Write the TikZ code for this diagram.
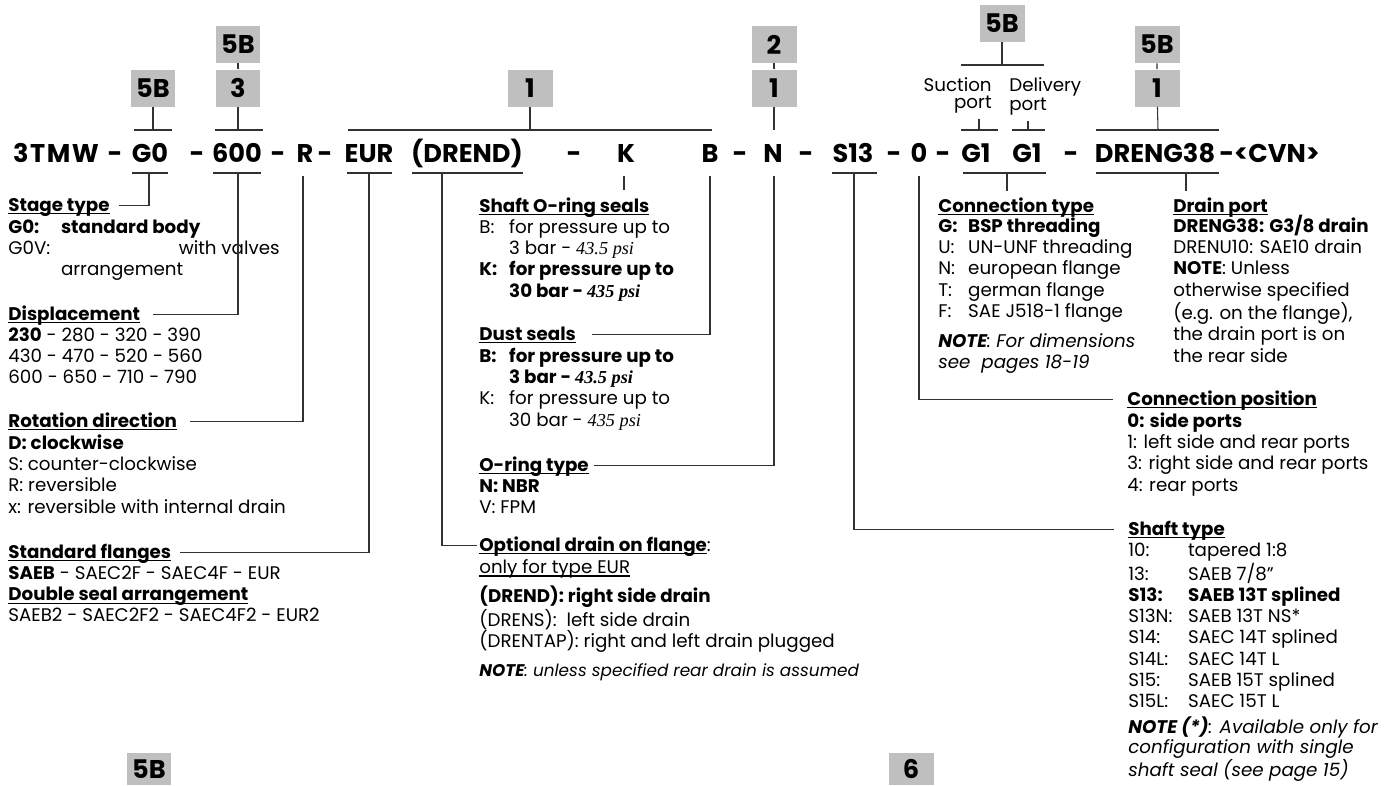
\documentclass[tikz,border=0pt]{standalone}
\usepackage{fontspec}
\setmainfont{Poppins}
\newfontfamily\psifont{Liberation Serif}
\usetikzlibrary{positioning}
\definecolor{tagfill}{RGB}{191,191,191}
\definecolor{leadgray}{RGB}{50,50,50}
\newcommand{\codefont}{\fontsize{14.6}{16}\selectfont\bfseries}
\newcommand{\bodyfont}{\fontsize{10.4}{12.1}\selectfont}
\newcommand{\psival}[1]{{\psifont\itshape #1}}
\newcommand{\hdtxt}[1]{\setbox0\hbox{#1}\rlap{\rule[-1.9pt]{\wd0}{0.8pt}}\box0}
\newcommand{\firstln}{\rule{0pt}{10pt}}

\begin{document}
\begin{tikzpicture}[x=0.02cm, y=-0.02cm,
    code/.style={font=\codefont, anchor=base, inner sep=0pt},
    tag/.style={fill=tagfill, font=\codefont, minimum width=0.9cm,
      minimum height=0.74cm, inner sep=0pt},
    hd/.style={font=\bodyfont\bfseries, anchor=base west, inner sep=0pt},
    body/.style={font=\bodyfont, anchor=north west, inner sep=0pt, align=left,
      yshift=10pt},
    lead/.style={draw=leadgray, line width=0.6pt}]
  \useasboundingbox (0,0) rectangle (1400,785);
  % the order code
  \node[code] (c3tmw) at (56,162) {\addfontfeature{LetterSpace=6}3TMW};
  \node[code] (cg0) at (150,162) {G0};
  \node[code] (c600) at (237,162) {600};
  \node[code] (cr) at (305,162) {R};
  \node[code] (ceur) at (369,162) {EUR};
  \node[code] (cdrend) at (467,162) {(DREND)};
  \node[code] (ck) at (626,162) {K};
  \node[code] (cb) at (710,162) {B};
  \node[code] (cn) at (773,162) {N};
  \node[code] (cs13) at (853,162) {S13};
  \node[code] (c0) at (919,162) {0};
  \node[code] (cg1a) at (976,162) {G1};
  \node[code] (cg1b) at (1027,162) {G1};
  \node[code] (cdreng) at (1155,162) {DRENG38};
  \node[code, anchor=base west] (ccvn) at (1219,162) {-<CVN>};
  \foreach \x [count=\i] in {115,197,278,325,574,740,806,894,943,1071}
    \node[code] (dash\i) at (\x,162) {-};

  % page tags
  \node[tag] (tagg0) at (153,88) {5B};
  \node[tag] (tagdispa) at (238,44.5) {5B};
  \node[tag] (tagdispb) at (238,88) {3};
  \node[tag] (tagseal) at (530,88) {1};
  \node[tag] (tagna) at (774,44.5) {2};
  \node[tag] (tagnb) at (774,88) {1};
  \node[tag] (tagport) at (1002,23.5) {5B};
  \node[tag] (tagdra) at (1157,44.5) {5B};
  \node[tag] (tagdrb) at (1157,88) {1};
  \node[tag, anchor=north, minimum height=0.64cm] (tagfoota) at (149,753) {5B};
  \node[tag, anchor=north, minimum height=0.64cm] (tagfootb) at (911,753) {6};

  \node[body, anchor=north east, align=right, font=\fontsize{10.4}{9.8}\selectfont]
    (suction) at (992,91) {\firstln Suction\\port};
  \node[body, font=\fontsize{10.4}{9.8}\selectfont]
    (delivery) at (1009,91) {\firstln Delivery\\port};

  % brackets above
  \coordinate (g0up) at (153,130);
  \coordinate (dispup) at (238,130);
  \coordinate (sealup) at (530,130);
  \coordinate (nup) at (774,130);
  \coordinate (portup) at (1002,65);
  \coordinate (sucup) at (979,130);
  \coordinate (delup) at (1028,130);
  \coordinate (drup) at (1158,130);
  \draw[lead] (134,130) -- (172,130) (215,130) -- (263,130)
    (348,130) -- (712,130) (961,65) -- (1044,65)
    (961,130) -- (998,130) (1012,130) -- (1045,130) (1096,130) -- (1219,130);
  \draw[lead] (tagg0) -- (g0up);
  \draw[lead] (tagdispa) -- (tagdispb) -- (dispup);
  \draw[lead] (tagseal) -- (sealup);
  \draw[lead] (tagna) -- (tagnb) -- (nup);
  \draw[lead] (tagport) -- (portup);
  \draw[lead] (tagdra) -- (tagdrb) -- (drup);
  \draw[lead, shorten <=3pt] (suction.south -| sucup) -- (sucup);
  \draw[lead, shorten <=3pt] (delivery.south -| delup) -- (delup);

  % left column
  \node[hd] (stagehd) at (8,211) {\hdtxt{Stage type}};
  \node[body] (stage) at (8,233) {\firstln\textbf{\makebox[30pt][l]{G0:}standard body}\\
    \makebox[97pt][l]{G0V:}with valves\\ \hspace*{30pt}arrangement};
  \node[hd] (disphd) at (8,320) {\hdtxt{Displacement}};
  \node[body] (disp) at (8,341) {\firstln\textbf{230} - 280 - 320 - 390\\
    430 - 470 - 520 - 560\\ 600 - 650 - 710 - 790};
  \node[hd] (rothd) at (8,427) {\hdtxt{Rotation direction}};
  \node[body] (rot) at (8,449) {\firstln\textbf{D: clockwise}\\ S: counter-clockwise\\
    R: reversible\\ x: reversible with internal drain};
  \node[hd] (flghd) at (8,558) {\hdtxt{Standard flanges}};
  \node[body] (flg) at (8,579) {\firstln\textbf{SAEB} - SAEC2F - SAEC4F - EUR\\
    \textbf{\hdtxt{Double seal arrangement}}\\ SAEB2 - SAEC2F2 - SAEC4F2 - EUR2};

  % middle column
  \node[hd] (sealhd) at (479,212) {\hdtxt{Shaft O-ring seals}};
  \node[body] (seal) at (479,233) {\firstln\makebox[17pt][l]{B:}for pressure up to\\
    \hspace*{17pt}3 bar - \psival{43.5 psi}\\
    \textbf{\makebox[17pt][l]{K:}for pressure up to}\\
    \hspace*{17pt}\textbf{30 bar - \psival{435 psi}}};
  \node[hd] (dusthd) at (479,340) {\hdtxt{Dust seals}};
  \node[body] (dust) at (479,362) {\firstln\textbf{\makebox[17pt][l]{B:}for pressure up to}\\
    \hspace*{17pt}\textbf{3 bar - \psival{43.5 psi}}\\
    \makebox[17pt][l]{K:}for pressure up to\\
    \hspace*{17pt}30 bar - \psival{435 psi}};
  \node[hd] (oringhd) at (479,471) {\hdtxt{O-ring type}};
  \node[body] (oring) at (479,492) {\firstln\textbf{N: NBR}\\ V: FPM};
  \node[hd] (opthd) at (479,551) {\hdtxt{Optional drain on flange}\mdseries:};
  \node[body] (opt) at (479,573) {\firstln\hdtxt{only for type EUR}\\[3.2pt]
    \textbf{(DREND): right side drain}\\ (DRENS):\ \ left side drain\\
    (DRENTAP): right and left drain plugged\\[4.5pt]
    {\fontsize{9.6}{12.1}\selectfont\itshape\textbf{NOTE}: unless specified rear drain is assumed}};

  % right columns
  \node[hd] (conthd) at (938,212) {\hdtxt{Connection type}};
  \node[body] (cont) at (938,232) {\firstln\textbf{\makebox[17pt][l]{G:}BSP threading}\\
    \makebox[17pt][l]{U:}UN-UNF threading\\ \makebox[17pt][l]{N:}european flange\\
    \makebox[17pt][l]{T:}german flange\\ \makebox[17pt][l]{F:}SAE J518-1 flange\\[5pt]
    \textit{\textbf{NOTE}: For dimensions}\\ \textit{see\ \ pages 18-19}};
  \node[hd] (dporthd) at (1173,212) {\hdtxt{Drain port}};
  \node[body] (dport) at (1173,232) {\firstln\textbf{DRENG38: G3/8 drain}\\
    DRENU10: SAE10 drain\\ \textbf{NOTE}: Unless\\ otherwise specified\\
    (e.g. on the flange),\\ the drain port is on\\ the rear side};
  \node[hd] (posthd) at (1127,405) {\hdtxt{Connection position}};
  \node[body] (pos) at (1127,427) {\firstln\textbf{0: side ports}\\
    1: left side and rear ports\\ 3: right side and rear ports\\ 4: rear ports};
  \node[hd] (shafthd) at (1128,535) {\hdtxt{Shaft type}};
  \node[body] (shaft) at (1128,556) {\firstln\makebox[34pt][l]{10:}tapered 1:8\\
    \makebox[34pt][l]{13:}SAEB 7/8"\\
    \textbf{\makebox[34pt][l]{S13:}SAEB 13T splined}\\
    \makebox[34pt][l]{S13N:}SAEB 13T NS*\\
    \makebox[34pt][l]{S14:}SAEC 14T splined\\
    \makebox[34pt][l]{S14L:}SAEC 14T L\\
    \makebox[34pt][l]{S15:}SAEB 15T splined\\
    \makebox[34pt][l]{S15L:}SAEC 15T L\\[2.6pt]
    \textit{\textbf{NOTE (*)}: Available only for}\\[-0.6pt]
    \textit{configuration with single}\\[-0.6pt] \textit{shaft seal (see page 15)}};

  % brackets below and leaders
  \coordinate (g0lo) at (149,173);
  \coordinate (displo) at (238,173);
  \coordinate (rlo) at (303,176);
  \coordinate (eurlo) at (369,173);
  \coordinate (drendlo) at (442,173);
  \coordinate (klo) at (624,176);
  \coordinate (blo) at (710,176);
  \coordinate (nlo) at (774,176);
  \coordinate (s13lo) at (854,173);
  \coordinate (zerolo) at (919,176);
  \coordinate (g1lo) at (1007,173);
  \coordinate (drenglo) at (1186,173);
  \draw[lead] (132,173) -- (168,173) (213,173) -- (261,173)
    (347,173) -- (392,173) (412,173) -- (523,173) (832,173) -- (877,173)
    (963,173) -- (1046,173) (1096,173) -- (1219,173);
  \draw[lead] (g0lo) |- ([shift={(5pt,3pt)}]stagehd.base east);
  \draw[lead] (displo) |- ([shift={(7pt,3pt)}]disphd.base east);
  \draw[lead] (rlo) |- ([shift={(7pt,3pt)}]rothd.base east);
  \draw[lead] (eurlo) |- ([shift={(5pt,3pt)}]flghd.base east);
  \draw[lead] (drendlo) |- ([shift={(-1pt,3pt)}]opthd.base west);
  \draw[lead] (klo) -- ++(0,14);
  \draw[lead] (blo) |- ([shift={(9pt,3pt)}]dusthd.base east);
  \draw[lead] (nlo) |- ([shift={(3pt,3pt)}]oringhd.base east);
  \draw[lead] (s13lo) |- ([shift={(-8pt,3pt)}]shafthd.base west);
  \draw[lead] (zerolo) |- ([shift={(-8pt,3pt)}]posthd.base west);
  \draw[lead] (g1lo) -- ++(0,18);
  \draw[lead] (drenglo) -- ++(0,18);
\end{tikzpicture}
\end{document}
